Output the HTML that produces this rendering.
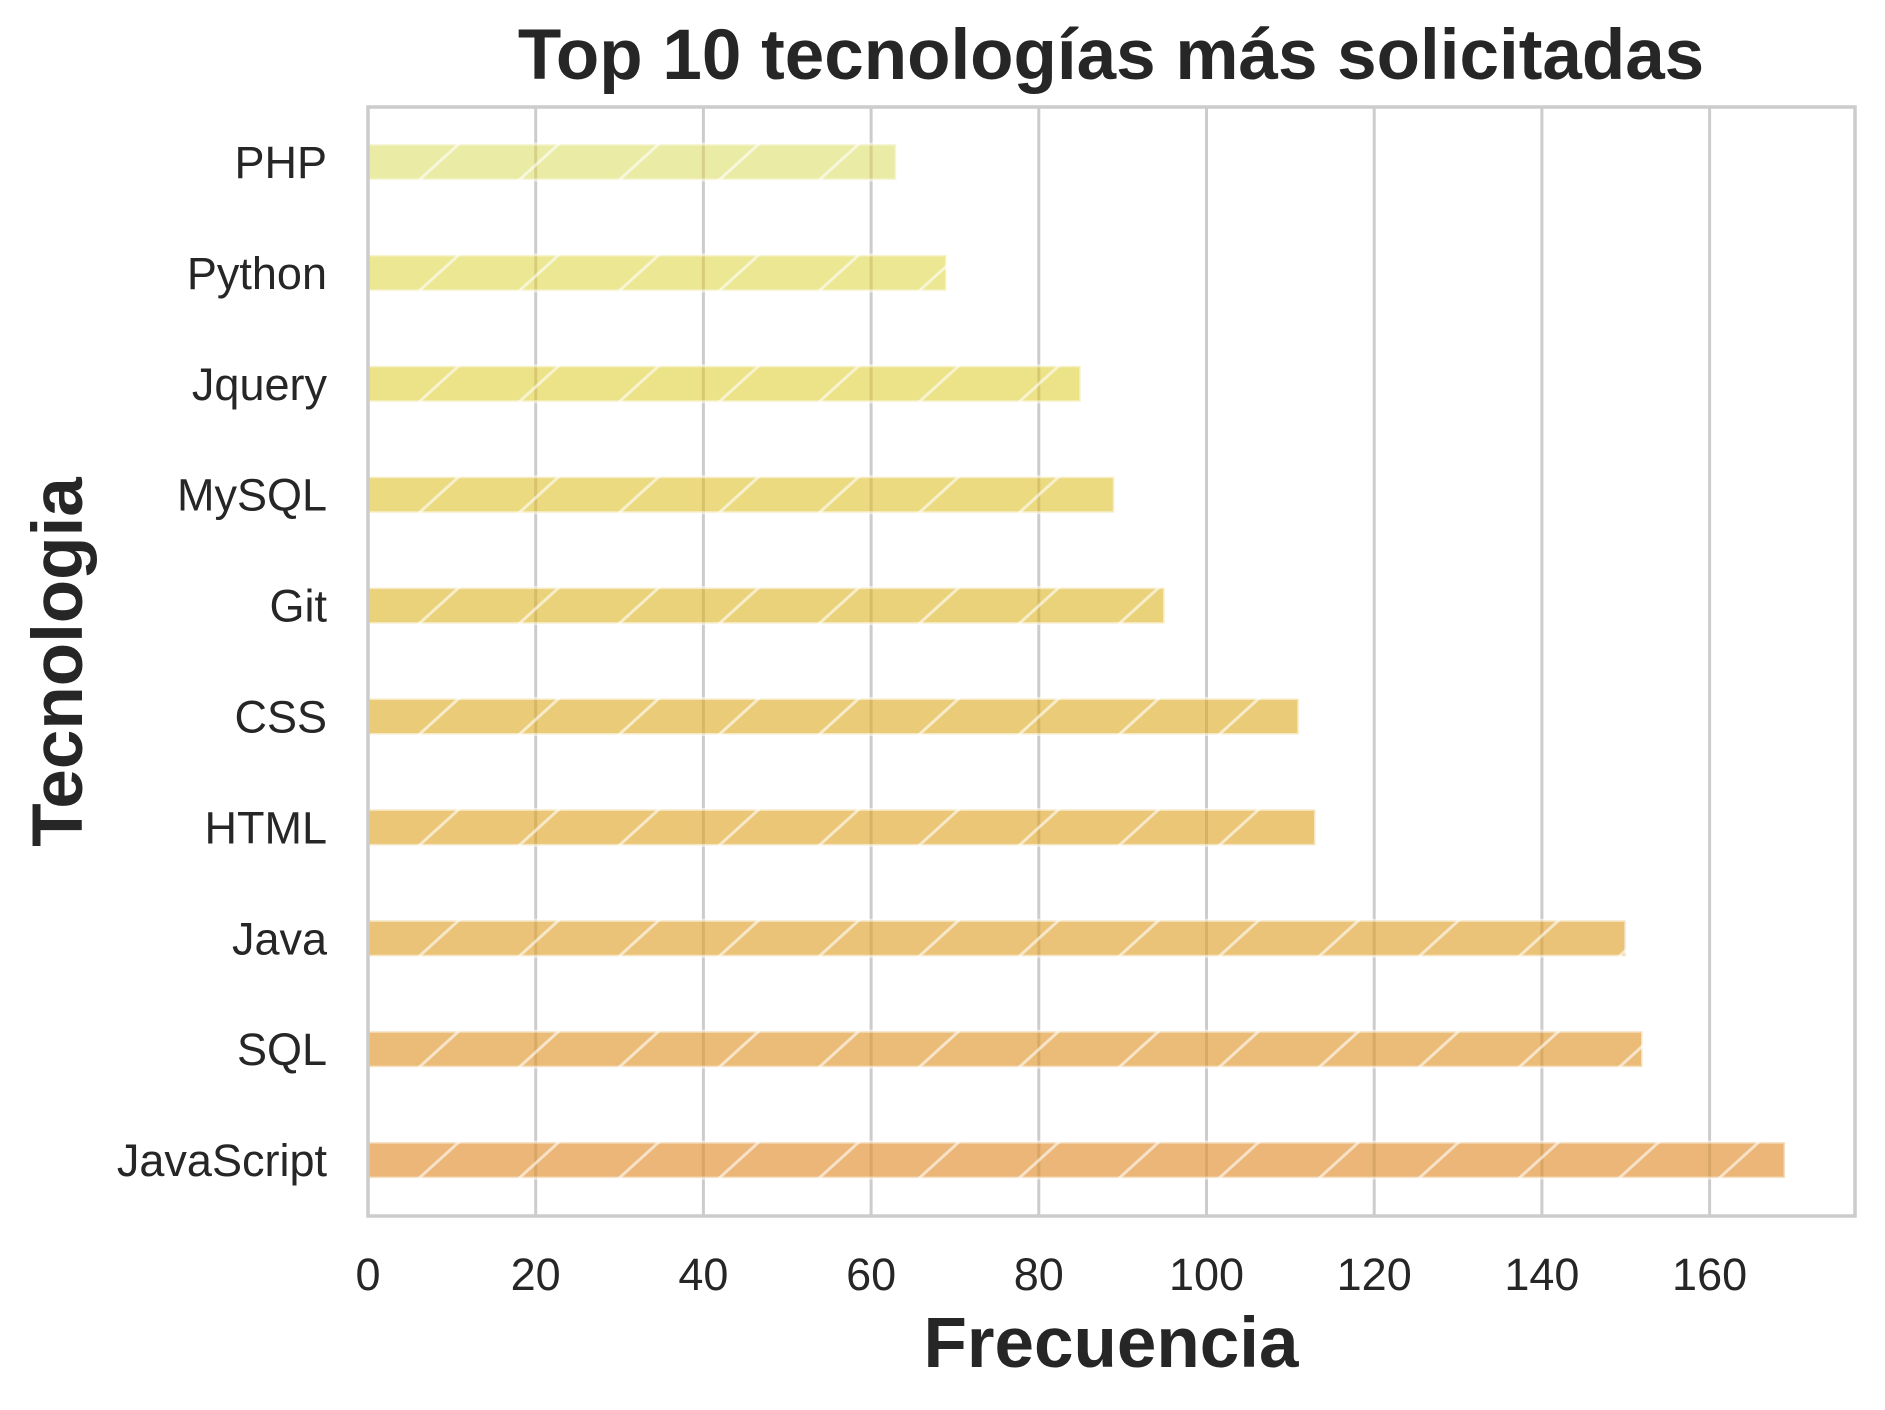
<!DOCTYPE html>
<html><head><meta charset="utf-8"><style>
html,body{margin:0;padding:0;background:#fff;}
svg{display:block;}
text{font-family:"Liberation Sans",Arial,sans-serif;fill:#262626;}
</style></head><body>
<svg id="chart" width="1885" height="1410" viewBox="0 0 1885 1410" xmlns="http://www.w3.org/2000/svg">
<defs>
<clipPath id="plotclip"><rect x="368" y="107" width="1487" height="1109"/></clipPath>
</defs>
<rect x="0" y="0" width="1885" height="1410" fill="#fff"/>
<g id="grid"></g>
<g id="bars"></g>
<rect x="368" y="107" width="1487" height="1109" fill="none" stroke="#cccccc" stroke-width="3.5"/>
<g id="xticks"></g>
<g id="yticks"></g>
<text x="1111" y="79" font-size="71" font-weight="bold" text-anchor="middle">Top 10 tecnologías más solicitadas</text>
<text x="1111" y="1367" font-size="71" font-weight="bold" text-anchor="middle">Frecuencia</text>
<text transform="translate(82,662) rotate(-90)" font-size="71" font-weight="bold" text-anchor="middle">Tecnologia</text>
</svg>
<script>
const categories = ["PHP","Python","Jquery","MySQL","Git","CSS","HTML","Java","SQL","JavaScript"];
const values = [63,69,85,89,95,111,113,150,152,169];
const xTicks = [0,20,40,60,80,100,120,140,160];
const barColors = ["#eaeca5","#ebe792","#ece287","#ebda80","#ead27a","#eacc78","#eac676","#ebc378","#ebbc78","#ebb677"];

const NS = "http://www.w3.org/2000/svg";
const X0 = 368, K = 8.385, TOP = 107, BOT = 1216;
const Y0 = 162, STEP = 110.9, BH = 36;
function xs(v){ return X0 + v * K; }
function yc(i){ return Y0 + i * STEP; }
function mk(tag, attrs, parent){ const e = document.createElementNS(NS, tag); for (const k in attrs) e.setAttribute(k, attrs[k]); parent.appendChild(e); return e; }

const grid = document.getElementById('grid');
const xt = document.getElementById('xticks');
xTicks.forEach(t => {
  const l = mk('line', {x1: xs(t), x2: xs(t), y1: TOP, y2: BOT, stroke: '#cccccc', 'stroke-width': 3}, grid);
  
  
  const tx = mk('text', {x: xs(t), y: 1290, 'font-size': 45, 'text-anchor': 'middle'}, xt);
  tx.textContent = t;
  
  
});

const bars = document.getElementById('bars');
const yt = document.getElementById('yticks');
categories.forEach((c, i) => {
  const y = yc(i) - BH / 2, w = xs(values[i]) - X0;
  const g = mk('g', {'clip-path': 'url(#plotclip)'}, bars);
  
  
  const r = mk('rect', {x: X0, y: y, width: w, height: BH, fill: barColors[i], 'fill-opacity': 1}, g);
  
  
  // gridlines visible through bars
  xTicks.forEach(t => {
    if (xs(t) > X0 + 2 && xs(t) < X0 + w) {
      const gl = mk('line', {x1: xs(t), x2: xs(t), y1: y, y2: y + BH, stroke: 'rgba(150,110,40,0.22)', 'stroke-width': 3}, g);
      
      
    }
  });
  // hatch
  const cp = 'bc' + i;
  const clip = mk('clipPath', {id: cp}, document.querySelector('defs'));
  mk('rect', {x: X0, y: y, width: w, height: BH}, clip);
  const hg = mk('g', {'clip-path': 'url(#' + cp + ')'}, g);
  
  
  for (let hx = 417 - 100; hx < X0 + w + 100; hx += 100) {
    const hl = mk('line', {x1: hx, y1: y + BH + 2, x2: hx + 44, y2: y - 2, stroke: 'rgba(255,255,255,0.6)', 'stroke-width': 3}, hg);
    
    
  }
  const ed = mk('rect', {x: X0, y: y, width: w, height: BH, fill: 'none', stroke: 'rgba(255,255,255,0.55)', 'stroke-width': 3}, g);
  
  
  const tx = mk('text', {x: 327, y: yc(i) + 16, 'font-size': 45, 'text-anchor': 'end'}, yt);
  tx.textContent = c;
  
  
});
</script>
</body></html>
